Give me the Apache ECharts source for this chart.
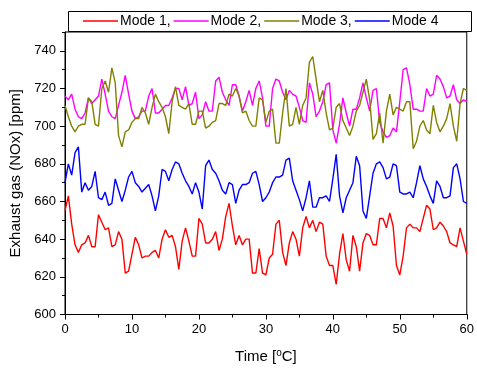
<!DOCTYPE html>
<html>
<head>
<meta charset="utf-8">
<script src="https://cdn.jsdelivr.net/npm/echarts@6/dist/echarts.min.js"></script>
<style>
  html, body { margin: 0; padding: 0; background: #fff; }
  #chart { width: 477px; height: 369px; }
</style>
</head>
<body>
<div id="chart"></div>
<script>
// readings every 0.5 s from 0 to 60
const STEP = 0.5;

const mode1 = [655, 663, 648, 637, 633, 637, 638, 642, 636, 636, 653, 649, 645, 646, 636, 637, 644, 640, 622, 623,
  632, 641, 637, 630, 631, 631, 633, 634, 630, 640, 645, 641, 642, 636, 624, 639, 646, 639, 631, 631,
  651, 648, 638, 638, 640, 644, 634, 640, 652, 659, 647, 637, 642, 637, 640, 640, 622, 622, 635, 622,
  621, 630, 632, 648, 650, 633, 626, 638, 644, 640, 631, 646, 652, 646, 650, 644, 649, 648, 631, 626,
  626, 616, 632, 643, 629, 623, 642, 636, 623, 638, 643, 642, 637, 637, 651, 651, 646, 654, 647, 626,
  621, 631, 646, 648, 646, 646, 644, 651, 658, 656, 645, 646, 649, 647, 644, 638, 637, 636, 646, 639, 632];

const mode2 = [716, 714, 717, 709, 705, 704, 707, 715, 712, 714, 716, 725, 717, 708, 705, 704, 711, 718, 727, 717,
  708, 704, 705, 708, 708, 716, 720, 707, 707, 709, 711, 711, 715, 720, 720, 714, 721, 711, 712, 718,
  704, 706, 713, 708, 708, 724, 726, 718, 714, 711, 722, 722, 716, 708, 713, 719, 711, 720, 724, 715,
  700, 700, 720, 725, 724, 718, 714, 719, 717, 716, 710, 703, 702, 723, 717, 705, 708, 713, 722, 723,
  698, 691, 701, 715, 707, 700, 709, 709, 715, 723, 715, 708, 719, 720, 702, 697, 694, 695, 699, 697,
  713, 730, 731, 722, 709, 709, 708, 708, 720, 716, 717, 727, 725, 721, 715, 716, 722, 714, 712, 714, 713];

const mode3 = [711, 705, 700, 697, 700, 701, 701, 715, 713, 701, 700, 720, 724, 718, 731, 723, 695, 689, 697, 698,
  702, 704, 704, 710, 707, 701, 710, 717, 713, 710, 705, 696, 713, 721, 711, 710, 709, 712, 701, 701,
  708, 708, 699, 700, 702, 703, 712, 712, 711, 717, 716, 720, 716, 707, 708, 703, 700, 700, 715, 714,
  702, 708, 709, 691, 691, 707, 720, 700, 701, 710, 701, 711, 715, 734, 737, 725, 713, 719, 707, 698,
  699, 710, 712, 703, 699, 695, 700, 708, 711, 718, 725, 714, 693, 696, 707, 691, 708, 717, 706, 710,
  709, 708, 713, 713, 688, 692, 700, 703, 698, 696, 711, 702, 697, 700, 704, 712, 700, 692, 712, 720, 719];

const mode4 = [670, 680, 674, 686, 689, 665, 670, 666, 668, 676, 662, 661, 665, 658, 659, 672, 666, 660, 666, 673,
  676, 670, 668, 665, 667, 669, 663, 655, 663, 677, 676, 671, 677, 681, 680, 675, 671, 668, 664, 670,
  665, 656, 679, 682, 677, 675, 671, 666, 664, 670, 669, 659, 666, 669, 669, 670, 675, 676, 669, 660,
  662, 665, 670, 673, 673, 674, 682, 683, 671, 666, 661, 655, 662, 671, 657, 657, 662, 662, 663, 660,
  672, 685, 663, 654, 662, 666, 670, 684, 679, 655, 651, 663, 675, 680, 681, 678, 672, 673, 680, 679,
  665, 664, 664, 665, 662, 670, 679, 672, 668, 663, 659, 671, 668, 662, 662, 663, 678, 680, 672, 660, 659];

const names = ['Mode 1,', 'Mode 2,', 'Mode 3,', 'Mode 4'];
const colors = ['#ff0000', '#ff00ff', '#808000', '#0000ff'];
const yTicks = [600, 620, 640, 660, 680, 700, 720, 740];
const xTicks = [0, 10, 20, 30, 40, 50, 60];

const toPairs = arr => arr.map((v, i) => [i * STEP, v]);

const font = 'Liberation Sans, Arial, sans-serif';
const chart = echarts.init(document.getElementById('chart'), null, { renderer: 'canvas' });

const baseAxis = {
  axisLine: { show: true, onZero: false, lineStyle: { color: '#000', width: 1 } },
  splitLine: { show: false },
};

const option = {
  animation: false,
  backgroundColor: '#fff',
  grid: {
    left: 65, right: 9, top: 32, bottom: 53,
    show: true, borderColor: '#000', borderWidth: 1,
  },
  graphic: [{
    type: 'rect',
    left: 66, top: 9,
    shape: { width: 403, height: 20 },
    style: { fill: 'none', stroke: '#000', lineWidth: 1 },
  }],
  legend: {
    left: 78, top: 9,
    itemWidth: 35, itemHeight: 1.5, itemGap: 3,
    icon: 'rect',
    textStyle: { fontFamily: font, fontSize: 14, color: '#000', padding: [0, 0, 0, -3] },
    data: names,
  },
  xAxis: [
    {
      ...baseAxis,
      type: 'value', min: 0, max: 60, interval: 10,
      name: 'Time [{s|o}C]', nameLocation: 'middle', nameGap: 34,
      nameTextStyle: {
        fontFamily: font, fontSize: 15, color: '#000',
        rich: { s: { fontFamily: font, fontSize: 10, verticalAlign: 'top', color: '#000', padding: [0, 0, 6, 0] } },
      },
      axisTick: { show: true, inside: false, length: 5, lineStyle: { color: '#000' } },
      axisLabel: { fontFamily: font, fontSize: 13, color: '#000', margin: 8,
        customValues: xTicks },
    },
    {
      ...baseAxis,
      type: 'value', min: 0, max: 60, interval: 5, position: 'bottom',
      axisLine: { show: false },
      axisTick: { show: true, length: 3, lineStyle: { color: '#000' } },
      axisLabel: { show: false },
    },
  ],
  yAxis: [
    {
      ...baseAxis,
      type: 'value', min: 600, max: 750, interval: 20,
      name: 'Exhaust gas (NOx) [ppm]', nameLocation: 'middle', nameGap: 37, nameRotate: 90,
      nameTextStyle: { fontFamily: font, fontSize: 15, color: '#000' },
      axisTick: { show: true, inside: false, length: 5, lineStyle: { color: '#000' },
        customValues: yTicks },
      axisLabel: { fontFamily: font, fontSize: 13, color: '#000', margin: 9,
        customValues: yTicks },
    },
    {
      ...baseAxis,
      type: 'value', min: 600, max: 750, interval: 10, position: 'left',
      axisLine: { show: false },
      axisTick: { show: true, length: 3, lineStyle: { color: '#000' } },
      axisLabel: { show: false },
    },
  ],
  series: [mode1, mode2, mode3, mode4].map((arr, k) => ({
    name: names[k],
    type: 'line',
    data: toPairs(arr),
    showSymbol: false,
    symbol: 'none',
    lineStyle: { color: colors[k], width: 1.4 },
    itemStyle: { color: colors[k] },
  })),
};

chart.setOption(option);
</script>
</body>
</html>
